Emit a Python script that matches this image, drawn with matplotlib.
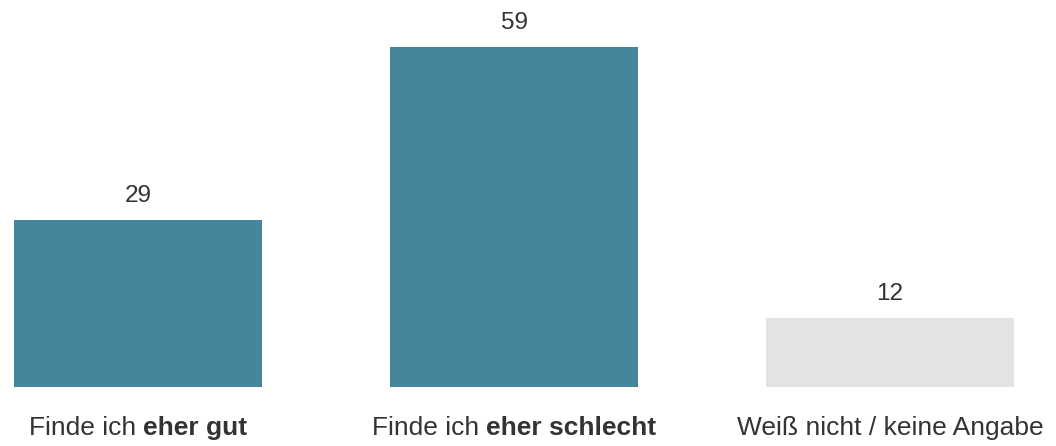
import matplotlib
matplotlib.use("Agg")
from matplotlib import pyplot as plt

categories = ["Finde ich eher gut", "Finde ich eher schlecht", "Weiß nicht / keine Angabe"]
label_normal = ["Finde ich ", "Finde ich ", "Weiß nicht / keine Angabe"]
label_bold = ["eher gut", "eher schlecht", ""]
values = [29, 59, 12]
colors = ["#45869c", "#45869c", "#e3e3e3"]

plt.rcParams['font.family'] = ['Liberation Sans', 'DejaVu Sans']
TEXT = "#333333"


def main():
    fig = plt.figure(figsize=(10.56, 4.46), dpi=100)
    ax = fig.add_axes([0, 0, 1, 1])
    x = range(len(values))
    ax.bar(x, values, width=0.66, color=colors)
    ax.set_xlim(-138 / 376, (1056 - 138) / 376)
    ax.set_ylim(-(446 - 387) / 5.76, 387 / 5.76)
    ax.axis("off")

    for i, v in enumerate(values):
        ax.annotate(str(v), (i, v), xytext=(0, 17.5), textcoords="offset points",
                    ha="center", va="center", fontsize=17.5, color=TEXT)

    # category labels: normal part + bold part, centred together
    fig.canvas.draw()
    r = fig.canvas.get_renderer()
    for i in x:
        t1 = ax.text(i, -7.2, label_normal[i], ha="left", va="center",
                     fontsize=19, color=TEXT)
        t2 = ax.text(i, -7.2, label_bold[i], ha="left", va="center",
                     fontsize=19, color=TEXT, fontweight="bold")
        w1 = t1.get_window_extent(r).width
        w2 = t2.get_window_extent(r).width if label_bold[i] else 0
        px0 = ax.transData.transform((i, 0))[0] - (w1 + w2) / 2
        d0 = ax.transData.inverted().transform((px0, 0))[0]
        d1 = ax.transData.inverted().transform((px0 + w1, 0))[0]
        t1.set_x(d0)
        t2.set_x(d1)

    plt.savefig("out.png", dpi=100)


if __name__ == '__main__':
    main()
